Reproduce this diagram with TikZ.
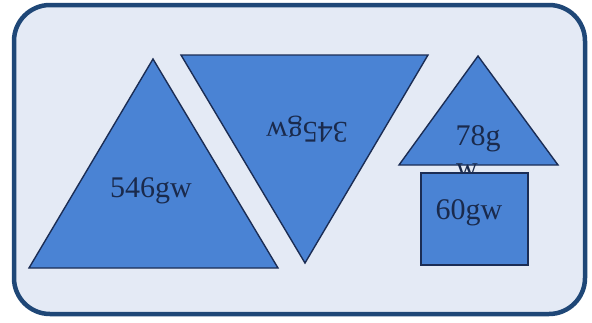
\documentclass[tikz,border=0pt]{standalone}
\usepackage{fontspec}
\setmainfont{Liberation Serif}
\definecolor{bgfill}{HTML}{E4EAF5}
\definecolor{frame}{HTML}{1F4777}
\definecolor{shapefill}{HTML}{4A83D4}
\definecolor{shapeline}{HTML}{1B2D55}
\definecolor{txt}{HTML}{1A2A4C}
\begin{document}
\begin{tikzpicture}[x=1pt,y=-1pt,
  shp/.style={fill=shapefill,draw=shapeline,line width=1.4pt,line join=miter},
  lbl/.style={text=txt,font=\fontsize{30}{34}\selectfont,inner sep=0pt}]
\useasboundingbox (0,0) rectangle (592,322);
\fill[white] (0,0) rectangle (592,322);
\draw[fill=bgfill,draw=frame,line width=4.5pt,rounded corners=36pt] (14,5) rectangle (585,314);
% left triangle
\draw[shp] (153,59) -- (278,268) -- (29,268) -- cycle;
\node[lbl] (t1) at (151,191) {546gw};
% inverted triangle
\draw[shp] (181,55) -- (428,55) -- (305,263) -- cycle;
\node[lbl,rotate=180] (t2) at (307,129) {345gw};
% small triangle
\draw[shp] (478,56) -- (558,165) -- (399,165) -- cycle;
\node[lbl] (t3) at (478,139) {78g};
\node[lbl,anchor=base] (t3b) at (467,177) {w};
% rectangle
\draw[shp] (421,173) rectangle (528,265);
\node[lbl] (r1) at (469,213) {60gw};
\end{tikzpicture}
\end{document}
